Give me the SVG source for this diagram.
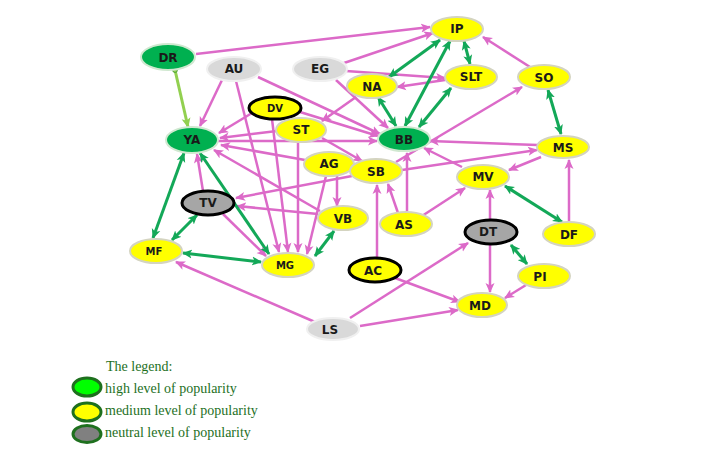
<svg xmlns="http://www.w3.org/2000/svg" width="711" height="457" viewBox="0 0 711 457">
<defs>
<marker id="ap" viewBox="0 0 10 10" refX="9" refY="5" markerWidth="10" markerHeight="10" markerUnits="userSpaceOnUse" orient="auto-start-reverse"><path d="M0,0.5 L10,5 L0,9.5 L2.5,5 z" fill="#dc6ac8"/></marker>
<marker id="ag" viewBox="0 0 10 10" refX="9" refY="5" markerWidth="10" markerHeight="10" markerUnits="userSpaceOnUse" orient="auto-start-reverse"><path d="M0,0.5 L10,5 L0,9.5 L2.5,5 z" fill="#13a858"/></marker>
<marker id="al" viewBox="0 0 10 10" refX="9" refY="5" markerWidth="10" markerHeight="10" markerUnits="userSpaceOnUse" orient="auto"><path d="M0,0.5 L10,5 L0,9.5 L2.5,5 z" fill="#92d050"/></marker>
<marker id="dot" viewBox="0 0 6 6" refX="3" refY="3" markerWidth="6" markerHeight="6" markerUnits="userSpaceOnUse"><circle cx="3" cy="3" r="2.5" fill="#92d050" stroke="#2e8b2e" stroke-width="0.6"/></marker>
</defs>
<style>
.p{stroke:#dc6ac8;stroke-width:2.5;fill:none;marker-end:url(#ap)}
.g{stroke:#13a858;stroke-width:3;fill:none;marker-end:url(#ag);marker-start:url(#ag)}
.y{fill:#ffff00;stroke:#d4d4c0;stroke-width:2}
.w{fill:#d9d9d9;stroke:#f0f0f0;stroke-width:2}
.k{stroke:#000;stroke-width:3}
.gr{fill:#00b050;stroke:#d0e8d0;stroke-width:2}
.gy{fill:#a6a6a6}
.t{font-family:"DejaVu Sans",Verdana,sans-serif;font-weight:bold;font-size:12px;fill:#1a1a1a;text-anchor:middle;dominant-baseline:central}
.lg{font-family:"Liberation Serif","Times New Roman",serif;font-size:14px;fill:#1e701e}
.le{stroke:#1e701e;stroke-width:3}
</style>
<rect width="711" height="457" fill="#fff"/>
<g id="connectors">
<line class="p" x1="196" y1="54" x2="430" y2="27"/>
<line class="p" x1="222" y1="80" x2="200" y2="126"/>
<line class="p" x1="236" y1="81" x2="279" y2="252"/>
<line class="p" x1="258" y1="77" x2="380" y2="134"/>
<line class="p" x1="344" y1="63" x2="433" y2="33"/>
<line class="p" x1="346" y1="71" x2="445" y2="78"/>
<line class="p" x1="336" y1="80" x2="388" y2="128"/>
<line class="p" x1="356" y1="97" x2="322" y2="121"/>
<line class="p" x1="445" y1="80" x2="397" y2="87"/>
<line class="p" x1="530" y1="67" x2="483" y2="37"/>
<line class="p" x1="252" y1="113" x2="219" y2="133"/>
<line class="p" x1="277" y1="131" x2="220" y2="138"/>
<line class="p" x1="305" y1="160" x2="221" y2="145"/>
<line class="p" x1="320" y1="211" x2="214" y2="150"/>
<line class="p" x1="218" y1="141" x2="377" y2="141"/>
<line class="p" x1="300" y1="112" x2="378" y2="136"/>
<line class="p" x1="322" y1="138" x2="362" y2="161"/>
<line class="p" x1="272" y1="119" x2="288" y2="252"/>
<line class="p" x1="298" y1="142" x2="298" y2="252"/>
<line class="p" x1="326" y1="176" x2="307" y2="254"/>
<line class="p" x1="337" y1="176" x2="337" y2="206"/>
<line class="p" x1="352" y1="176" x2="236" y2="198"/>
<line class="p" x1="318" y1="214" x2="237" y2="206"/>
<line class="p" x1="203" y1="191" x2="197" y2="154"/>
<line class="p" x1="223" y1="214" x2="266" y2="256"/>
<line class="p" x1="396" y1="162" x2="522" y2="87"/>
<line class="p" x1="402" y1="170" x2="537" y2="150"/>
<line class="p" x1="538" y1="145" x2="430" y2="141"/>
<line class="p" x1="541" y1="157" x2="509" y2="170"/>
<line class="p" x1="462" y1="167" x2="424" y2="148"/>
<line class="p" x1="569" y1="221" x2="569" y2="160"/>
<line class="p" x1="398" y1="213" x2="388" y2="184"/>
<line class="p" x1="407" y1="211" x2="407" y2="153"/>
<line class="p" x1="422" y1="216" x2="465" y2="188"/>
<line class="p" x1="377" y1="257" x2="377" y2="185"/>
<line class="p" x1="490" y1="220" x2="490" y2="190"/>
<line class="p" x1="490" y1="245" x2="490" y2="292"/>
<line class="p" x1="526" y1="285" x2="505" y2="298"/>
<line class="p" x1="395" y1="278" x2="460" y2="302"/>
<line class="p" x1="350" y1="318" x2="468" y2="243"/>
<line class="p" x1="360" y1="326" x2="458" y2="310"/>
<line class="p" x1="315" y1="322" x2="176" y2="262"/>
<line class="g" x1="440" y1="40" x2="389" y2="77"/>
<line class="g" x1="450" y1="41" x2="405" y2="126"/>
<line class="g" x1="464" y1="41" x2="470" y2="64"/>
<line class="g" x1="378" y1="97" x2="396" y2="126"/>
<line class="g" x1="451" y1="88" x2="419" y2="127"/>
<line class="g" x1="548" y1="90" x2="561" y2="134"/>
<line class="g" x1="505" y1="186" x2="562" y2="222"/>
<line class="g" x1="511" y1="245" x2="527" y2="264"/>
<line class="g" x1="184" y1="153" x2="153" y2="238"/>
<line class="g" x1="200" y1="153" x2="269" y2="254"/>
<line class="g" x1="197" y1="215" x2="172" y2="240"/>
<line class="g" x1="183" y1="253" x2="261" y2="262"/>
<line class="g" x1="334" y1="231" x2="315" y2="256"/>
<line x1="175" y1="70" x2="188" y2="127" stroke="#92d050" stroke-width="3" marker-start="url(#dot)" marker-end="url(#al)"/>
</g>
<g id="node-IP"><ellipse class="y" cx="457" cy="29" rx="26" ry="12"/><text class="t" x="457" y="29">IP</text></g>
<g id="node-DR"><ellipse class="gr k" cx="168" cy="57" rx="27" ry="13"/><text class="t" x="168" y="58">DR</text></g>
<g id="node-AU"><ellipse class="w" cx="234" cy="69" rx="27" ry="12"/><text class="t" x="234" y="69">AU</text></g>
<g id="node-EG"><ellipse class="w" cx="320" cy="69" rx="27" ry="12"/><text class="t" x="320" y="69">EG</text></g>
<g id="node-NA"><ellipse class="y" cx="372" cy="86" rx="25" ry="12"/><text class="t" x="372" y="87">NA</text></g>
<g id="node-SLT"><ellipse class="y" cx="471" cy="77" rx="26" ry="12"/><text class="t" x="471" y="77">SLT</text></g>
<g id="node-SO"><ellipse class="y" cx="544" cy="77" rx="26" ry="12"/><text class="t" x="544" y="78">SO</text></g>
<g id="node-DV"><ellipse class="y k" cx="275" cy="108" rx="26" ry="11"/><text class="t" x="275" y="108" style="font-size:10px">DV</text></g>
<g id="node-ST"><ellipse class="y" cx="301" cy="130" rx="25" ry="12"/><text class="t" x="301" y="130">ST</text></g>
<g id="node-YA"><ellipse class="gr" cx="192" cy="140" rx="26" ry="13"/><text class="t" x="192" y="140">YA</text></g>
<g id="node-BB"><ellipse class="gr" cx="404" cy="139" rx="26" ry="12"/><text class="t" x="404" y="140">BB</text></g>
<g id="node-MS"><ellipse class="y" cx="563" cy="147" rx="26" ry="11"/><text class="t" x="563" y="148">MS</text></g>
<g id="node-AG"><ellipse class="y" cx="329" cy="164" rx="25" ry="12"/><text class="t" x="329" y="164">AG</text></g>
<g id="node-SB"><ellipse class="y" cx="376" cy="171" rx="26" ry="12"/><text class="t" x="376" y="172">SB</text></g>
<g id="node-MV"><ellipse class="y" cx="483" cy="177" rx="26" ry="12"/><text class="t" x="483" y="177">MV</text></g>
<g id="node-TV"><ellipse class="gy k" cx="208" cy="203" rx="26" ry="12"/><text class="t" x="208" y="203">TV</text></g>
<g id="node-VB"><ellipse class="y" cx="343" cy="218" rx="25" ry="12"/><text class="t" x="343" y="219">VB</text></g>
<g id="node-AS"><ellipse class="y" cx="406" cy="224" rx="26" ry="12"/><text class="t" x="404" y="225">AS</text></g>
<g id="node-DT"><ellipse class="gy k" cx="491" cy="232" rx="26" ry="12"/><text class="t" x="488" y="232">DT</text></g>
<g id="node-DF"><ellipse class="y" cx="569" cy="234" rx="26" ry="12"/><text class="t" x="569" y="235">DF</text></g>
<g id="node-MF"><ellipse class="y" cx="156" cy="251" rx="26" ry="12"/><text class="t" x="154" y="251" style="font-size:10px">MF</text></g>
<g id="node-MG"><ellipse class="y" cx="288" cy="265" rx="26" ry="12"/><text class="t" x="285" y="265" style="font-size:10px">MG</text></g>
<g id="node-AC"><ellipse class="y k" cx="375" cy="270" rx="26" ry="12"/><text class="t" x="373" y="271">AC</text></g>
<g id="node-PI"><ellipse class="y" cx="544" cy="276" rx="26" ry="12"/><text class="t" x="540" y="277">PI</text></g>
<g id="node-MD"><ellipse class="y" cx="482" cy="305" rx="25" ry="12"/><text class="t" x="480" y="306">MD</text></g>
<g id="node-LS"><ellipse class="w" cx="333" cy="329" rx="26" ry="11"/><text class="t" x="330" y="330">LS</text></g>
<g id="legend">
<text class="lg" x="106" y="371">The legend:</text>
<ellipse class="le" cx="87" cy="387" rx="14" ry="9" fill="#00ff00"/>
<text class="lg" x="105" y="393">high level of popularity</text>
<ellipse class="le" cx="87" cy="412" rx="14" ry="9" fill="#ffff00"/>
<text class="lg" x="105" y="415">medium level of popularity</text>
<ellipse class="le" cx="87" cy="434" rx="14" ry="8.5" fill="#808080"/>
<text class="lg" x="105" y="437">neutral level of popularity</text>
</g>
</svg>
